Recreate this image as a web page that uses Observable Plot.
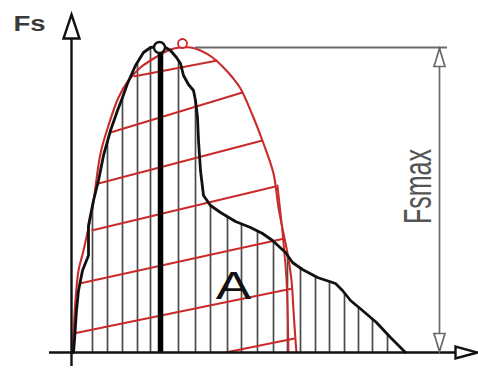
<!DOCTYPE html>
<html><head><meta charset="utf-8">
<script src="https://cdn.jsdelivr.net/npm/d3@7"></script>
<script src="https://cdn.jsdelivr.net/npm/@observablehq/plot@0.6"></script>
<style>html,body{margin:0;padding:0;background:#fff;overflow:hidden}</style>
</head><body><div id="chart"></div>
<script>
// Force-time curve Fs(t) (black)
const curveT = [2,3,5,7,11,17,17,22,27,32,39,46,51,56,64,72,79,88,94,99,105,109,112,117,122,124,126,127,128,129,132,139,149,164,179,191,201,214,221,231,246,264,271,279,291,305,319,334];
const curveF = [0,12,42,62,82,97,127,152,172,197,222,242,255,269,287,300,305,306,305,302,295,289,277,268,262,252,235,212,197,182,157,147,140,131,125,119,112,100,90,83,75,69,62,52,42,30,15,0];
// Idealised half-ellipse "dome" (red)
const domeT = [1,2,4,7,12,21,29,37,47,57,69,79,89,99,109,119,129,141,152,161,169,182,192,202,207,212,216,220,222,224,225];
const domeF = [0,19,52,82,102,145,199,227,255,272,285,292,298,303,305,305,302,295,285,275,264,235,209,179,145,119,99,72,42,12,0];
// Red mesh lines across the dome
const meshT1 = [154,2,8,20,27,39,62];
const meshF1 = [0,19,69,122,169,220,276];
const meshT2 = [223,221,213,204,191,171,146];
const meshF2 = [14,64,114,166,212,260,292];
const meridianT = [206,211,215,217];
const meridianF = [167,120,72,0];
// Vertical hatching positions
const hatchT = [21,36,51,66,79,107,124,139,156,170,186,202,216,229,244,258,273,287,301,316];
// Peak (Fs max) and dome top
const peakT = 88, peakF = 305;
const domeTopT = 111, domeTopF = 309;
const fsMax = 305;
// Axes extents
const tMin = -22, tMax = 384, fMin = -14, fMax = 314;
const dimT = 368, dimLineStart = 124, dimLineEnd = 376;

const curve = curveT.map((t, i) => ({t, F: curveF[i]}));
const dome = domeT.map((t, i) => ({t, F: domeF[i]}));
const mesh = meshT1.map((t, i) => ({t1: t, F1: meshF1[i], t2: meshT2[i], F2: meshF2[i]}));
const meridian = meridianT.map((t, i) => ({t, F: meridianF[i]}));

function heightAt(t) {
  let best = 0;
  for (let i = 0; i < curve.length - 1; i++) {
    const a = curve[i], b = curve[i + 1];
    if (a.t === b.t) continue;
    if ((a.t - t) * (b.t - t) <= 0) {
      const v = a.F + (b.F - a.F) * (t - a.t) / (b.t - a.t);
      if (v > best) best = v;
    }
  }
  return best;
}

const tri = (dir, len, half) => ({
  draw(ctx) {
    if (dir === "up") { ctx.moveTo(0, -len); ctx.lineTo(half, 0); ctx.lineTo(-half, 0); }
    else if (dir === "down") { ctx.moveTo(0, len); ctx.lineTo(half, 0); ctx.lineTo(-half, 0); }
    else { ctx.moveTo(len, 0); ctx.lineTo(0, half); ctx.lineTo(0, -half); }
    ctx.closePath();
  }
});

const RED = "#c92a2a", INK = "#111", GREY = "#6a6a6a";

const plot = Plot.plot({
  width: 478, height: 370,
  marginLeft: 0, marginRight: 0, marginTop: 0, marginBottom: 0,
  x: {domain: [-71, 407], axis: null},
  y: {domain: [-18, 352], axis: null},
  style: {background: "#fff", fontFamily: "Liberation Sans, Arial, sans-serif"},
  marks: [
    // hatching
    Plot.ruleX(hatchT, {x: d => d, y1: 0, y2: d => heightAt(d), stroke: "#4a4a4a", strokeWidth: 1.7}),
    // red dome + mesh
    Plot.line(dome, {x: "t", y: "F", stroke: RED, strokeWidth: 2.1, curve: "catmull-rom"}),
    Plot.link(mesh, {x1: "t1", y1: "F1", x2: "t2", y2: "F2", stroke: RED, strokeWidth: 1.9}),
    Plot.line(meridian, {x: "t", y: "F", stroke: RED, strokeWidth: 1.9, curve: "catmull-rom"}),
    // black force curve
    Plot.line(curve, {x: "t", y: "F", stroke: INK, strokeWidth: 2.8}),
    // thick line at peak
    Plot.ruleX([peakT + 1], {x: d => d, y1: 0, y2: d => heightAt(d) - 4, stroke: "#000", strokeWidth: 5.5}),
    // axes
    Plot.ruleX([0], {y1: fMin, y2: fMax, stroke: INK, strokeWidth: 2.4}),
    Plot.ruleY([0], {x1: tMin, x2: tMax, stroke: INK, strokeWidth: 2.4}),
    Plot.dot([{t: 0, F: fMax}], {x: "t", y: "F", symbol: tri("up", 24, 8), fill: "#fff", stroke: INK, strokeWidth: 2.4}),
    Plot.dot([{t: tMax, F: 0}], {x: "t", y: "F", symbol: tri("right", 22, 6), fill: "#fff", stroke: INK, strokeWidth: 2.4}),
    // Fs max dimension
    Plot.ruleY([fsMax], {x1: dimLineStart, x2: dimLineEnd, stroke: GREY, strokeWidth: 2}),
    Plot.ruleX([dimT], {y1: 0, y2: fsMax, stroke: GREY, strokeWidth: 1.7}),
    Plot.dot([{t: dimT, F: fsMax - 19}], {x: "t", y: "F", symbol: tri("up", 18, 5.5), fill: "#fff", stroke: GREY, strokeWidth: 1.7}),
    Plot.dot([{t: dimT, F: 19}], {x: "t", y: "F", symbol: tri("down", 18, 5.5), fill: "#fff", stroke: GREY, strokeWidth: 1.7}),
    // peak circles
    Plot.dot([{t: domeTopT, F: domeTopF}], {x: "t", y: "F", r: 4.5, fill: "#fff", stroke: RED, strokeWidth: 1.8}),
    Plot.dot([{t: peakT, F: peakF}], {x: "t", y: "F", r: 5.5, fill: "#fff", stroke: INK, strokeWidth: 2.4}),
    // labels
    Plot.text([{t: -58, F: 329, s: "Fs"}], {x: "t", y: "F", text: "s", textAnchor: "start", fontSize: 22, fontWeight: "bold", fill: "#3a3a3a"}),
    Plot.text([{t: 162, F: 66, s: "A"}], {x: "t", y: "F", text: "s", fontSize: 38, fill: "#111"}),
    Plot.text([{t: 347, F: 166, s: "Fsmax"}], {x: "t", y: "F", text: "s", rotate: -90, fontSize: 25, fill: "#555"})
  ]
});

plot.querySelectorAll("text").forEach(el => {
  const s = el.textContent;
  const tr = el.getAttribute("transform") || "";
  if (s === "Fs") el.setAttribute("transform", tr + " scale(1.25,1)");
  else if (s === "A") el.setAttribute("transform", tr + " scale(1.4,1)");
  else if (s === "Fsmax") el.setAttribute("transform", tr + " scale(1,1.55)");
});

document.getElementById("chart").appendChild(plot);
</script>
</body></html>
